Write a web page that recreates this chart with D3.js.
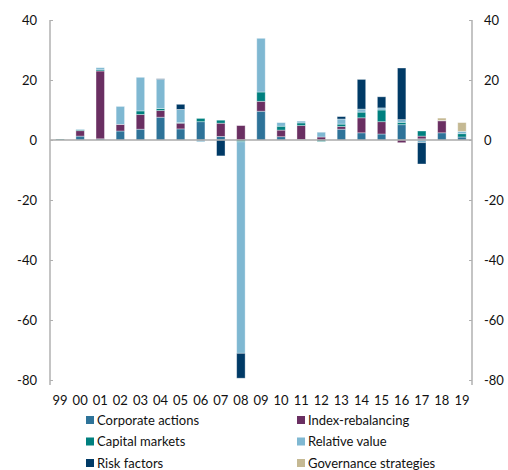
<!DOCTYPE html>
<html><head><meta charset="utf-8">
<script src="https://cdn.jsdelivr.net/npm/d3@7"></script>
<style>body{margin:0;background:#fff}svg{display:block;font-family:Lato,"Noto Sans",sans-serif}</style>
</head><body><svg id="c" width="508" height="470"></svg>
<script>
const years = ["99","00","01","02","03","04","05","06","07","08","09","10","11","12","13","14","15","16","17","18","19"];
const seriesNames = ["Corporate actions","Index-rebalancing","Capital markets","Relative value","Risk factors","Governance strategies"];
const corporateActions = [0,1.3,0.4,3.0,3.6,7.6,3.7,6.1,1.2,0,9.6,1.1,0.2,0,3.6,2.4,2.0,5.1,0.4,2.4,1.0];
const indexRebalancing = [0,1.8,22.6,2.2,4.9,2.2,1.9,0,4.4,4.8,3.3,2.2,4.6,1.0,0.9,5.0,4.1,-0.9,0.9,4.0,0];
const capitalMarkets   = [0.3,0.3,0.4,0,1.2,0.7,0.2,1.1,1.0,-0.6,3.1,1.3,0.9,-0.5,0.8,1.9,3.9,0.8,1.7,0,1.1];
const relativeValue    = [0,0.2,0.7,6.0,11.2,9.7,4.4,-0.6,0,-70.5,17.9,1.2,0.6,1.6,1.7,1.0,0.7,0.9,-0.9,0.1,0.8];
const riskFactors      = [0,0,0,0,0,0.2,1.7,0,-5.3,-8.3,0,0,0,0,0.8,9.9,3.7,17.2,-7.1,0,0];
const governance       = [0,0,0,0,0,0,0,0,0,0,0,0,0,0,0,0,0,0,0,0.8,2.9];
const yTicks = [40,20,0,-20,-40,-60,-80];
const colors = ["#2e7399","#6a2f62","#00807f","#7fb8d2","#003a66","#c5b993"];

const seriesArrays = [corporateActions,indexRebalancing,capitalMarkets,relativeValue,riskFactors,governance];
const rows = years.map((y,i)=>{const o={year:y}; seriesNames.forEach((s,j)=>o[s]=seriesArrays[j][i]); return o;});

const svg = d3.select("#c");
const L=50,R=472,T=20,B=380;
const x = d3.scaleBand().domain(years).range([L,R]).paddingInner(0.58).paddingOuter(0.29);
const y = d3.scaleLinear().domain([-80,40]).range([B,T]);
const stack = d3.stack().keys(seriesNames).offset(d3.stackOffsetDiverging);
const layers = stack(rows);

// bars
svg.append("g").selectAll("g").data(layers).join("g")
  .attr("fill",(d,i)=>colors[i])
  .selectAll("rect").data(d=>d.filter(p=>p[1]!==p[0])).join("rect")
  .attr("x",d=>x(d.data.year))
  .attr("width",x.bandwidth())
  .attr("y",d=>y(Math.max(d[0],d[1])))
  .attr("height",d=>Math.abs(y(d[0])-y(d[1])))
  .attr("stroke","rgba(255,255,255,0.45)").attr("stroke-width",0.8);

// zero line
svg.append("line").attr("x1",L).attr("x2",R).attr("y1",y(0)).attr("y2",y(0))
  .attr("stroke","#aaaaaa").attr("stroke-width",1.5);

// axes
const axL = svg.append("g").attr("transform",`translate(${L},0)`)
  .call(d3.axisRight(y).tickValues(yTicks).tickSize(3).tickFormat(""));
const axR = svg.append("g").attr("transform",`translate(${R},0)`)
  .call(d3.axisLeft(y).tickValues(yTicks).tickSize(3).tickFormat(""));
[axL,axR].forEach(a=>{a.select(".domain").remove();a.selectAll("line").attr("stroke","#b0b0b0");});
svg.append("line").attr("x1",L).attr("x2",L).attr("y1",T).attr("y2",B+5).attr("stroke","#b0b0b0").attr("stroke-width",1.5);
svg.append("line").attr("x1",R).attr("x2",R).attr("y1",T).attr("y2",B+5).attr("stroke","#b0b0b0").attr("stroke-width",1.5);

svg.append("g").selectAll("text").data(yTicks).join("text")
  .attr("x",37).attr("y",d=>y(d)).attr("dy","0.35em").attr("text-anchor","end")
  .attr("font-size",13).attr("fill","#111").text(d=>d);
svg.append("g").selectAll("text").data(yTicks).join("text")
  .attr("x",484).attr("y",d=>y(d)).attr("dy","0.35em").attr("text-anchor","start")
  .attr("font-size",13).attr("fill","#111").text(d=>d);

// x labels
svg.append("g").selectAll("text").data(years).join("text")
  .attr("x",d=>x(d)+x.bandwidth()/2).attr("y",400).attr("dy","0.35em").attr("text-anchor","middle")
  .attr("font-size",13).attr("fill","#111").text(d=>d);

// legend
const leg = svg.append("g").selectAll("g").data(seriesNames).join("g")
  .attr("transform",(d,i)=>`translate(${i%2===0?86:297},${420+Math.floor(i/2)*21.5})`);
leg.append("rect").attr("x",0).attr("y",-4).attr("width",8).attr("height",8).attr("fill",(d,i)=>colors[i]);
leg.append("text").attr("x",11).attr("y",0).attr("dy","0.35em").attr("font-size",13).attr("fill","#111").text(d=>d);
</script></body></html>
